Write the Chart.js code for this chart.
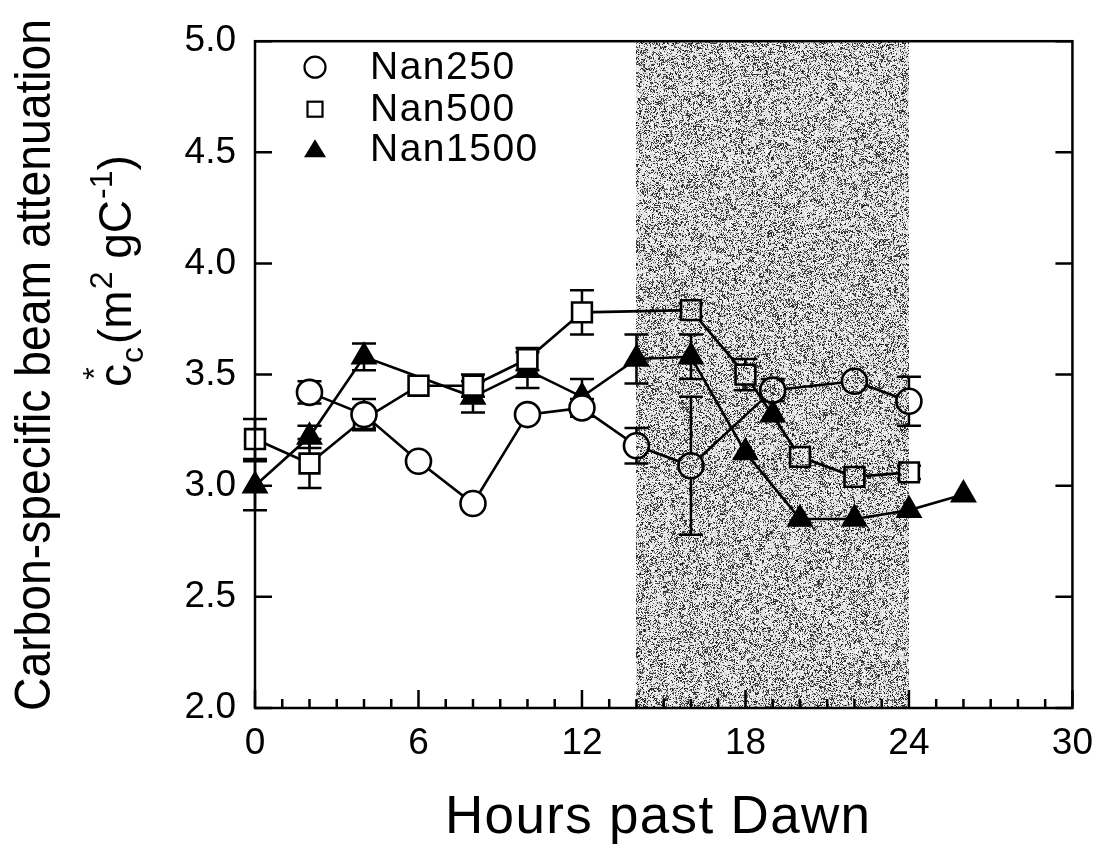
<!DOCTYPE html>
<html>
<head>
<meta charset="utf-8">
<script src="https://cdn.jsdelivr.net/npm/chart.js@4.4.1/dist/chart.umd.min.js"></script>
<style>
  html, body { margin: 0; padding: 0; background: #fff; }
  canvas { display: block; }
</style>
</head>
<body>
<canvas id="graph_1" width="1107" height="851"></canvas>
<script>
// Nan250 (circles)
var hours250 = [2, 4, 6, 8, 10, 12, 14, 16, 19, 22, 24];
var nan250 = [3.42, 3.32, 3.11, 2.92, 3.32, 3.35, 3.18, 3.09, 3.43, 3.47, 3.38];
var err250 = [0.05, 0.07, 0, 0, 0, 0.04, 0.08, 0.31, 0.05, 0, 0.11];

// Nan500 (squares)
var hours500 = [0, 2, 4, 6, 8, 10, 12, 16, 18, 20, 22, 24];
var nan500 = [3.21, 3.10, 3.30, 3.45, 3.45, 3.57, 3.78, 3.79, 3.50, 3.13, 3.04, 3.06];
var err500 = [0.09, 0.11, 0.04, 0, 0.05, 0.05, 0.10, 0.03, 0.07, 0, 0, 0.03];

// Nan1500 (filled triangles)
var hours1500 = [0, 2, 4, 8, 10, 12, 14, 16, 18, 20, 22, 24, 26];
var nan1500 = [3.00, 3.22, 3.58, 3.40, 3.52, 3.40, 3.57, 3.58, 3.15, 2.85, 2.85, 2.89, 2.96];
var err1500 = [0.11, 0.05, 0.06, 0.07, 0.08, 0.08, 0.11, 0.10, 0, 0, 0, 0, 0];

// lone Nan1500 triangle at 19 h, not joined by the line
var hoursLone = [19];
var nanLone = [3.32];

var xTicks = [0, 6, 12, 18, 24, 30];
var yTicks = [2.0, 2.5, 3.0, 3.5, 4.0, 4.5, 5.0];
var darkPeriod = [14, 24];   // shaded (night) band, hours

var FONT = '"Liberation Sans", Arial, Helvetica, sans-serif';
var PLOT = { left: 255, top: 37, right: 1078, bottom: 708 };

function pts(xs, ys) {
    return xs.map(function (x, i) { return { x: x, y: ys[i] }; });
}

// text drawn to a given length: letter spacing if longer, squeeze if shorter
function spacedText(ctx, text, x, y, target) {
    var w = ctx.measureText(text).width;
    if (target > w && 'letterSpacing' in ctx) {
        ctx.letterSpacing = ((target - w) / (text.length - 1)) + 'px';
        ctx.fillText(text, x, y);
        ctx.letterSpacing = '0px';
    } else {
        ctx.save();
        ctx.translate(x, y);
        ctx.scale(target / w, 1);
        ctx.fillText(text, 0, 0);
        ctx.restore();
    }
}

// stipple texture for the dark period (clumpy grey grain)
var stippleCanvas = null;
function makeStipple(w, h) {
    var c = document.createElement('canvas');
    c.width = w; c.height = h;
    var g = c.getContext('2d');
    var img = g.createImageData(w, h);
    var seed = 20240601;
    function rnd() {
        seed = (Math.imul(seed, 1103515245) + 12345) >>> 0;
        return seed / 4294967296;
    }
    var bw = Math.ceil(w / 3) + 1, bh = Math.ceil(h / 3) + 1;
    var coarse = new Float32Array(bw * bh);
    for (var k = 0; k < coarse.length; k++) coarse[k] = rnd();
    for (var yy = 0; yy < h; yy++) {
        for (var xx = 0; xx < w; xx++) {
            var i = yy * w + xx;
            var p = 0.08 + 0.45 * coarse[((yy / 3) | 0) * bw + ((xx / 3) | 0)];
            var v = rnd() < p ? 20 + rnd() * 90 : 205 + rnd() * 50;
            img.data[i * 4] = img.data[i * 4 + 1] = img.data[i * 4 + 2] = v;
            img.data[i * 4 + 3] = 255;
        }
    }
    g.putImageData(img, 0, 0);
    return c;
}

var errorBars = {
    id: 'errorBars',
    beforeDatasetsDraw: function (chart) {
        var ctx = chart.ctx;
        var ys = chart.scales.y;
        ctx.save();
        ctx.strokeStyle = '#000';
        ctx.lineWidth = 2.5;
        chart.data.datasets.forEach(function (ds, di) {
            if (!ds.errors) return;
            var meta = chart.getDatasetMeta(di);
            meta.data.forEach(function (el, i) {
                var e = ds.errors[i];
                if (!e) return;
                var v = ds.data[i].y;
                var y1 = ys.getPixelForValue(v + e);
                var y2 = ys.getPixelForValue(v - e);
                ctx.beginPath();
                ctx.moveTo(el.x, y1); ctx.lineTo(el.x, y2);
                ctx.moveTo(el.x - 12, y1); ctx.lineTo(el.x + 12, y1);
                ctx.moveTo(el.x - 12, y2); ctx.lineTo(el.x + 12, y2);
                ctx.stroke();
            });
        });
        ctx.restore();
    },
    afterDatasetsDraw: function (chart) {
        var ctx = chart.ctx;
        var a = chart.chartArea;
        var xs = chart.scales.x;
        var x1 = Math.round(xs.getPixelForValue(darkPeriod[0]));
        var x2 = Math.round(xs.getPixelForValue(darkPeriod[1]));
        var w = x2 - x1, h = Math.round(a.bottom - a.top);
        if (!stippleCanvas || stippleCanvas.width !== w || stippleCanvas.height !== h) {
            stippleCanvas = makeStipple(w, h);
        }
        ctx.save();
        ctx.globalCompositeOperation = 'multiply';
        ctx.drawImage(stippleCanvas, x1, Math.round(a.top));
        ctx.restore();
    }
};

var frameAndText = {
    id: 'frameAndText',
    afterDraw: function (chart) {
        var ctx = chart.ctx;
        var a = chart.chartArea;
        var xs = chart.scales.x, ys = chart.scales.y;
        ctx.save();
        ctx.strokeStyle = '#000';
        ctx.lineWidth = 2.5;
        ctx.strokeRect(a.left, a.top, a.right - a.left, a.bottom - a.top);
        // inward ticks
        ctx.beginPath();
        for (var hr = xs.min; hr <= xs.max; hr++) {
            var px = xs.getPixelForValue(hr);
            var len = hr % 6 === 0 ? 18 : 9;
            ctx.moveTo(px, a.bottom); ctx.lineTo(px, a.bottom - len);
        }
        yTicks.forEach(function (v) {
            var py = ys.getPixelForValue(v);
            ctx.moveTo(a.left, py); ctx.lineTo(a.left + 17, py);
            ctx.moveTo(a.right, py); ctx.lineTo(a.right - 17, py);
        });
        ctx.stroke();

        ctx.fillStyle = '#000';
        ctx.textAlign = 'left';
        ctx.textBaseline = 'alphabetic';

        // x title
        ctx.font = '53px ' + FONT;
        spacedText(ctx, 'Hours past Dawn', 445, 833, 425);

        // y title, line 1
        ctx.save();
        ctx.translate(50, 711);
        ctx.rotate(-Math.PI / 2);
        ctx.font = '50px ' + FONT;
        spacedText(ctx, 'Carbon-specific beam attenuation', 0, 0, 692);
        ctx.restore();

        // y title, line 2: c*_c (m^2 gC^-1)
        ctx.save();
        ctx.translate(131, 387);
        ctx.rotate(-Math.PI / 2);
        var u = 0;
        ctx.font = '46px ' + FONT;
        ctx.fillText('c', u, 0);
        var cw = ctx.measureText('c').width;
        ctx.font = '32px ' + FONT;
        ctx.textAlign = 'center';
        ctx.fillText('*', u + cw / 2 + 2, -26);
        ctx.textAlign = 'left';
        u += cw + 1;
        ctx.fillText('c', u, 12);
        u += ctx.measureText('c').width + 3;
        ctx.font = '46px ' + FONT;
        ctx.fillText('(m', u, 0);
        u += ctx.measureText('(m').width + 1;
        ctx.font = '32px ' + FONT;
        ctx.fillText('2', u, -19);
        u += ctx.measureText('2').width;
        ctx.font = '46px ' + FONT;
        ctx.fillText(' gC', u, 0);
        u += ctx.measureText(' gC').width + 1;
        ctx.font = '32px ' + FONT;
        ctx.fillText('-1', u, -19);
        u += ctx.measureText('-1').width;
        ctx.font = '46px ' + FONT;
        ctx.fillText(')', u, 0);
        ctx.restore();

        // legend, inside the plot, top left
        var lx = a.left + 60;
        var rows = [a.top + 26, a.top + 68, a.top + 108];
        ctx.lineWidth = 2.2;
        ctx.beginPath();
        ctx.arc(lx, rows[0], 10.5, 0, Math.PI * 2);
        ctx.stroke();
        ctx.strokeRect(lx - 7.5, rows[1] - 7.5, 15, 15);
        ctx.beginPath();
        ctx.moveTo(lx, rows[2] - 10);
        ctx.lineTo(lx + 11, rows[2] + 8);
        ctx.lineTo(lx - 11, rows[2] + 8);
        ctx.closePath();
        ctx.fill();
        ctx.font = '39px ' + FONT;
        ctx.textBaseline = 'middle';
        var names = chart.data.datasets.slice(0, 3).map(function (d) { return d.label; });
        names.forEach(function (n, i) {
            ctx.letterSpacing = '1.5px';
            ctx.fillText(n, a.left + 115, rows[i] + 1);
            ctx.letterSpacing = '0px';
        });
        ctx.restore();
    }
};

var common = {
    showLine: true,
    clip: false,
    tension: 0,
    borderColor: '#000',
    borderWidth: 2.6,
    pointBorderColor: '#000',
    pointBorderWidth: 2.6
};

function series(extra) {
    return Object.assign({}, common, extra);
}

var ctx = document.getElementById('graph_1');

var chart = new Chart(ctx, {
    type: 'scatter',
    data: {
        datasets: [
            series({ label: 'Nan250', data: pts(hours250, nan250), errors: err250,
                pointStyle: 'circle', pointRadius: 12.5, pointBackgroundColor: '#fff' }),
            series({ label: 'Nan500', data: pts(hours500, nan500), errors: err500,
                pointStyle: 'rect', pointRadius: 14, pointBackgroundColor: '#fff' }),
            series({ label: 'Nan1500', data: pts(hours1500, nan1500), errors: err1500,
                pointStyle: 'triangle', pointRadius: 13, pointBackgroundColor: '#000' }),
            series({ label: 'Nan1500 lone', data: pts(hoursLone, nanLone), showLine: false,
                pointStyle: 'triangle', pointRadius: 13, pointBackgroundColor: '#000' })
        ]
    },
    options: {
        responsive: false,
        animation: false,
        events: [],
        layout: { padding: { left: 0, top: 37, right: 29, bottom: 0 } },
        plugins: {
            legend: { display: false },
            tooltip: { enabled: false }
        },
        scales: {
            x: {
                type: 'linear',
                min: 0, max: 30,
                afterBuildTicks: function (s) { s.ticks = xTicks.map(function (v) { return { value: v }; }); },
                afterFit: function (s) { s.height = 143; },
                grid: { display: false, drawTicks: false },
                border: { display: false },
                ticks: {
                    color: '#000', padding: 14, maxRotation: 0, autoSkip: false,
                    font: { family: FONT, size: 37 }
                }
            },
            y: {
                type: 'linear',
                min: 2, max: 5,
                afterBuildTicks: function (s) { s.ticks = yTicks.map(function (v) { return { value: v }; }); },
                afterFit: function (s) { s.width = 255; },
                grid: { display: false, drawTicks: false },
                border: { display: false },
                ticks: {
                    color: '#000', padding: 19, autoSkip: false,
                    font: { family: FONT, size: 37 },
                    callback: function (v) { return Number(v).toFixed(1); }
                }
            }
        }
    },
    plugins: [errorBars, frameAndText]
});

// pull the plot area onto the reference frame
for (var pass = 0; pass < 3; pass++) {
    var ca = chart.chartArea;
    var old = chart.config.options.layout.padding;
    chart.config.options.layout.padding = {
        top: old.top + (PLOT.top - ca.top),
        right: old.right + (ca.right - PLOT.right),
        left: old.left + (PLOT.left - ca.left),
        bottom: old.bottom + (ca.bottom - PLOT.bottom)
    };
    chart.update();
}
</script>
</body>
</html>
